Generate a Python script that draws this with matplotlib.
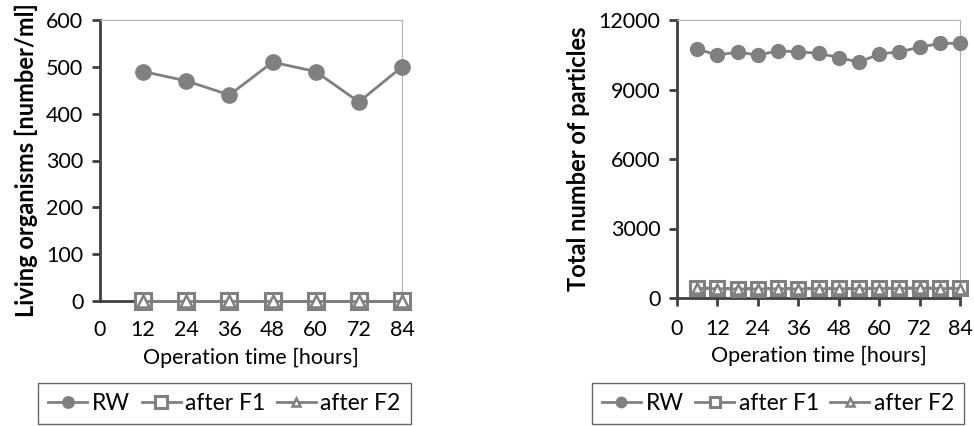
import matplotlib.pyplot as plt
import numpy as np

plt.rcParams['font.family'] = ['Lato', 'DejaVu Sans']

# left chart: living organisms
hours_a = [12, 24, 36, 48, 60, 72, 84]
rw_a = [490, 470, 440, 510, 490, 425, 500]
f1_a = [0, 0, 0, 0, 0, 0, 0]
f2_a = [0, 0, 0, 0, 0, 0, 0]

# right chart: total particles
hours_b = [6, 12, 18, 24, 30, 36, 42, 48, 54, 60, 66, 72, 78, 84]
rw_b = [10740, 10490, 10610, 10490, 10660, 10630, 10560, 10380, 10180,
        10530, 10630, 10820, 10990, 10990]
f1_b = [440, 420, 410, 410, 420, 410, 420, 420, 420, 430, 430, 440, 430, 430]
f2_b = [420, 400, 390, 390, 400, 390, 400, 400, 400, 410, 410, 420, 410, 410]

xticks = [0, 12, 24, 36, 48, 60, 72, 84]
line_c = '#808080'
spine_c = '#404040'

fig = plt.figure(figsize=(9.74, 4.26), dpi=100)
W, H = 974, 426


def make_axes(l, t, r, b):
    return fig.add_axes([l / W, 1 - b / H, (r - l) / W, (b - t) / H])


def style(ax, ylim, yticks, ylabel, ylabel_size, xtick_len, xpad):
    ax.set_xlim(0, 84)
    ax.set_ylim(*ylim)
    ax.set_xticks(xticks)
    ax.set_yticks(yticks)
    for s in ['top', 'right']:
        ax.spines[s].set_color('#b0b0b0')
        ax.spines[s].set_linewidth(0.8)
    for s in ['left', 'bottom']:
        ax.spines[s].set_color(spine_c)
        ax.spines[s].set_linewidth(2)
    ax.tick_params(axis='y', direction='out', length=6, width=2, color=spine_c,
                   labelsize=15.5, pad=6, labelcolor='black')
    ax.tick_params(axis='x', direction='out', length=xtick_len, width=2, color=spine_c,
                   labelsize=15.5, pad=xpad, labelcolor='black')
    ax.set_xlabel('Operation time [hours]', fontsize=15.5, labelpad=5)
    ax.set_ylabel(ylabel, fontsize=ylabel_size, fontweight='bold', labelpad=6)


def series(ax, x, rw, f1, f2, ms):
    ax.plot(x, rw, color=line_c, lw=2, marker='o', ms=ms, mfc=line_c, mec=line_c,
            label='RW', clip_on=False, zorder=3)
    ax.plot(x, f1, color=line_c, lw=2, marker='s', ms=ms, mfc='white', mec=line_c,
            mew=2.2, label='after F1', clip_on=False, zorder=3)
    ax.plot(x, f2, color=line_c, lw=2, marker='^', ms=ms - 2.5, mfc='white', mec=line_c,
            mew=1.8, label='after F2', clip_on=False, zorder=4)


ax1 = make_axes(100, 20, 402, 301)
series(ax1, hours_a, rw_a, f1_a, f2_a, 11)
style(ax1, (0, 600), range(0, 601, 100), 'Living organisms [number/ml]', 17, 0, 14)

ax2 = make_axes(677, 20, 960, 298)
series(ax2, hours_b, rw_b, f1_b, f2_b, 10)
style(ax2, (0, 12000), range(0, 12001, 3000), 'Total number of particles', 17, 6, 9)

for ax, x0, x1 in [(ax1, 33, 416), (ax2, 588, 968)]:
    leg = fig.legend(*ax.get_legend_handles_labels(), loc='center',
                     bbox_to_anchor=((x0 + x1) / 2 / W, 1 - 403.5 / H), ncol=3,
                     fontsize=16.5, frameon=True, fancybox=False, handlelength=1.7,
                     handletextpad=0.2, columnspacing=0.5, borderpad=0.45,
                     borderaxespad=0, markerscale=0.75)
    leg.get_frame().set_edgecolor('#404040')
    leg.get_frame().set_linewidth(1)

fig.savefig('out.png', dpi=100)
